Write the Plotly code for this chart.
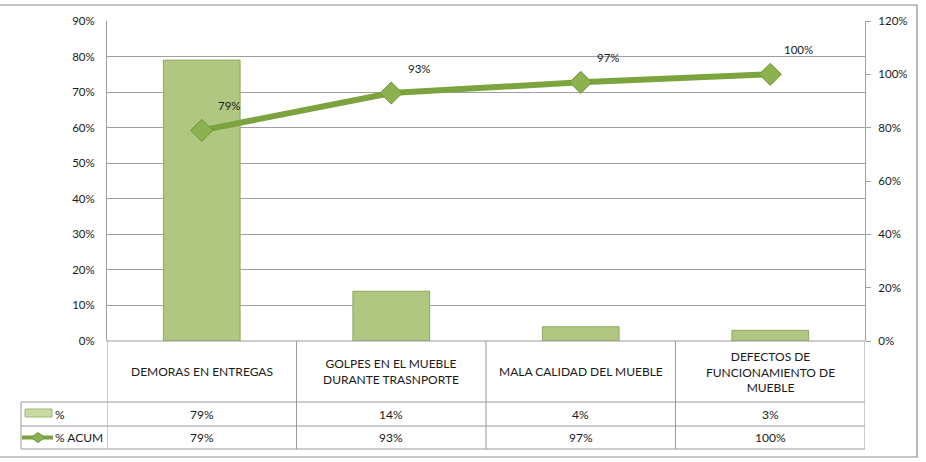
import plotly.graph_objects as go

categories = ["DEMORAS EN ENTREGAS", "GOLPES EN EL MUEBLE<br>DURANTE TRASNPORTE",
              "MALA CALIDAD DEL MUEBLE", "DEFECTOS DE<br>FUNCIONAMIENTO DE<br>MUEBLE"]
pct = [0.79, 0.14, 0.04, 0.03]
pct_acum = [0.79, 0.93, 0.97, 1.00]
series_names = ["%", "% ACUM"]

W, H = 926, 462
L, R, T, B = 107, 61, 21, 121
PW, PH = W - L - R, H - T - B

def px(p):  # pixel x -> paper x
    return (p - L) / PW

def py(p):  # pixel y -> paper y
    return (H - B - p) / PH

FONT = "Lato"
TXT = "#1a1a1a"
GRID = "#a0a0a0"
TBL = "#9a9a9a"
BAR = "#b0c781"
BAR_EDGE = "#8fa862"
LINE = "#7ba33e"
MARK = "#8cb24f"
TFS = 12

xs = list(range(len(categories)))

fig = go.Figure()
fig.add_trace(go.Bar(x=xs, y=pct, width=0.405, marker=dict(color=BAR, line=dict(color=BAR_EDGE, width=1)),
                     name=series_names[0], yaxis="y"))
fig.add_trace(go.Scatter(x=xs, y=pct_acum, mode="lines+markers", yaxis="y2", name=series_names[1],
                         line=dict(color=LINE, width=6),
                         marker=dict(symbol="diamond", size=17, color=MARK, line=dict(color="#6e9535", width=1))))

ann = []
for i, v in enumerate(pct_acum):
    ann.append(dict(x=i, y=v, xref="x", yref="y2", text=f"{round(v*100)}%", showarrow=False,
                    xshift=28, yshift=25, font=dict(family=FONT, size=11.5, color=TXT)))
for i, c in enumerate(categories):
    ann.append(dict(x=i, y=py(371.5), xref="x", yref="paper", text=c, showarrow=False,
                    font=dict(family=FONT, size=TFS, color=TXT), align="center", yanchor="middle"))
    ann.append(dict(x=i, y=py(414), xref="x", yref="paper", text=f"{round(pct[i]*100)}%", showarrow=False,
                    font=dict(family=FONT, size=TFS, color=TXT), yanchor="middle"))
    ann.append(dict(x=i, y=py(437.5), xref="x", yref="paper", text=f"{round(pct_acum[i]*100)}%", showarrow=False,
                    font=dict(family=FONT, size=TFS, color=TXT), yanchor="middle"))
ann.append(dict(x=px(53), y=py(414), xref="paper", yref="paper", text=series_names[0], showarrow=False,
                xanchor="left", yanchor="middle", font=dict(family=FONT, size=TFS, color=TXT)))
ann.append(dict(x=px(53), y=py(437.5), xref="paper", yref="paper", text=series_names[1], showarrow=False,
                xanchor="left", yanchor="middle", font=dict(family=FONT, size=TFS, color=TXT)))

shapes = []
def hline(y, x0, x1, color=TBL):
    shapes.append(dict(type="line", xref="paper", yref="paper", x0=px(x0), x1=px(x1), y0=py(y), y1=py(y),
                       line=dict(color=color, width=1)))

# outer chart border
shapes.append(dict(type="rect", xref="paper", yref="paper", x0=px(-2), x1=px(917), y0=py(457), y1=py(5),
                   line=dict(color="#8c8c8c", width=1.2), layer="below"))
# table horizontal lines
hline(341, 107, 865)
for yy in (402, 426, 449):
    hline(yy, 21, 865)
# table vertical lines at category boundaries
for k in range(len(categories) + 1):
    shapes.append(dict(type="line", xref="x", yref="paper", x0=k - 0.5, x1=k - 0.5, y0=py(341), y1=py(449),
                       line=dict(color=TBL, width=1)))
shapes.append(dict(type="line", xref="paper", yref="paper", x0=px(21), x1=px(21), y0=py(402), y1=py(449),
                   line=dict(color=TBL, width=1)))
# legend keys
shapes.append(dict(type="rect", xref="paper", yref="paper", x0=px(25), x1=px(52), y0=py(417), y1=py(409),
                   fillcolor="#c9dba3", line=dict(color="#9fb874", width=1)))
shapes.append(dict(type="line", xref="paper", yref="paper", x0=px(22), x1=px(53), y0=py(437.5), y1=py(437.5),
                   line=dict(color=LINE, width=4)))
cx, cy = 38, 437.5
shapes.append(dict(type="path", xref="paper", yref="paper",
                   path=f"M {px(cx-7)},{py(cy)} L {px(cx)},{py(cy-5)} L {px(cx+7)},{py(cy)} L {px(cx)},{py(cy+5)} Z",
                   fillcolor=MARK, line=dict(color="#6e9535", width=1)))

fig.update_layout(
    width=W, height=H, margin=dict(l=L, r=R, t=T, b=B),
    paper_bgcolor="white", plot_bgcolor="white", showlegend=False,
    font=dict(family=FONT, size=11.5, color=TXT),
    xaxis=dict(range=[-0.5, len(categories) - 0.5], showticklabels=False, showgrid=False, zeroline=False,
               showline=False, fixedrange=True),
    yaxis=dict(range=[0, 0.9], dtick=0.1, tickformat=".0%", showgrid=True, gridcolor=GRID, gridwidth=1,
               zeroline=False, showline=True, linecolor=GRID, linewidth=1, ticks="",
               ticklabelstandoff=9, tickfont=dict(family=FONT, size=11.5, color=TXT)),
    yaxis2=dict(range=[0, 1.2], dtick=0.2, tickformat=".0%", overlaying="y", side="right", showgrid=False,
                zeroline=False, showline=True, linecolor=GRID, linewidth=1, ticks="outside", ticklen=5,
                tickcolor=GRID, ticklabelstandoff=5, tickfont=dict(family=FONT, size=11.5, color=TXT)),
    annotations=ann, shapes=shapes,
)

fig.write_html("out.html")
